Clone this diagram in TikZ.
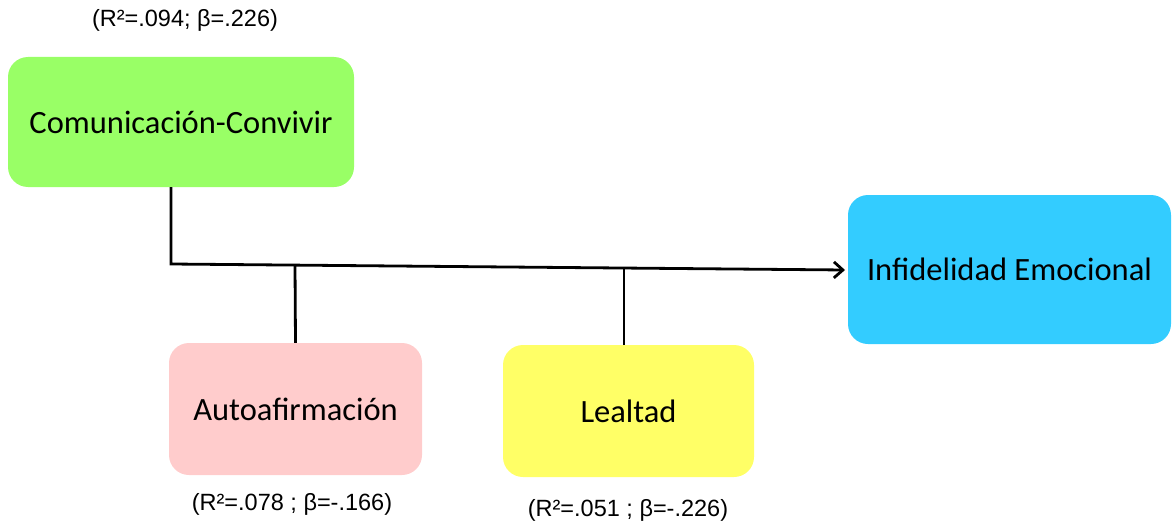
\documentclass[tikz,border=0pt]{standalone}
\usepackage{fontspec}
\setmainfont{Carlito}
\newfontfamily\labfont{Liberation Sans}
\usetikzlibrary{arrows.meta}
\definecolor{cgreen}{HTML}{99FF66}
\definecolor{cblue}{HTML}{33CCFF}
\definecolor{cpink}{HTML}{FFCCCC}
\definecolor{cyellow}{HTML}{FFFF66}
\tikzset{
  box/.style={rounded corners=20pt, inner sep=0pt, font=\fontsize{32.5}{38}\selectfont},
  lab/.style={inner sep=0pt, font=\labfont\fontsize{23.5}{28}\selectfont},
  conn/.style={line width=2.8pt, black},
}
\begin{document}
\begin{tikzpicture}[x=1pt,y=-1pt]
\useasboundingbox (0,0) rectangle (1172,527);
\node[box, fill=cgreen, minimum width=346pt, minimum height=130pt] (com) at (181,122) {Comunicación-Convivir};
\node[box, fill=cblue, minimum width=323pt, minimum height=149pt] (inf) at (1009.5,269.5) {Infidelidad Emocional};
\node[box, fill=cpink, minimum width=253pt, minimum height=132pt] (aut) at (295.5,409) {Autoafirmación};
\node[box, fill=cyellow, minimum width=251pt, minimum height=132pt] (lea) at (628.5,411) {Lealtad};
\node[lab] (lcom) at (185,20) {(R²=.094; β=.226)};
\node[lab] (laut) at (292,504) {(R²=.078 ; β=-.166)};
\node[lab] (llea) at (628,510) {(R²=.051 ; β=-.226)};
\coordinate (c0) at (171,187);
\coordinate (j1) at (171,264);
\coordinate (j2) at (295,265.1);
\coordinate (j3) at (624,268);
\coordinate (l0) at (624,345);
\coordinate (e) at (845,270);
\draw[conn, -{Straight Barb[length=9pt,width=16pt]}] (c0) -- (j1) -- (e);
\draw[conn] (aut.north) -- (j2);
\draw[conn] (l0) -- (j3);
\end{tikzpicture}
\end{document}
